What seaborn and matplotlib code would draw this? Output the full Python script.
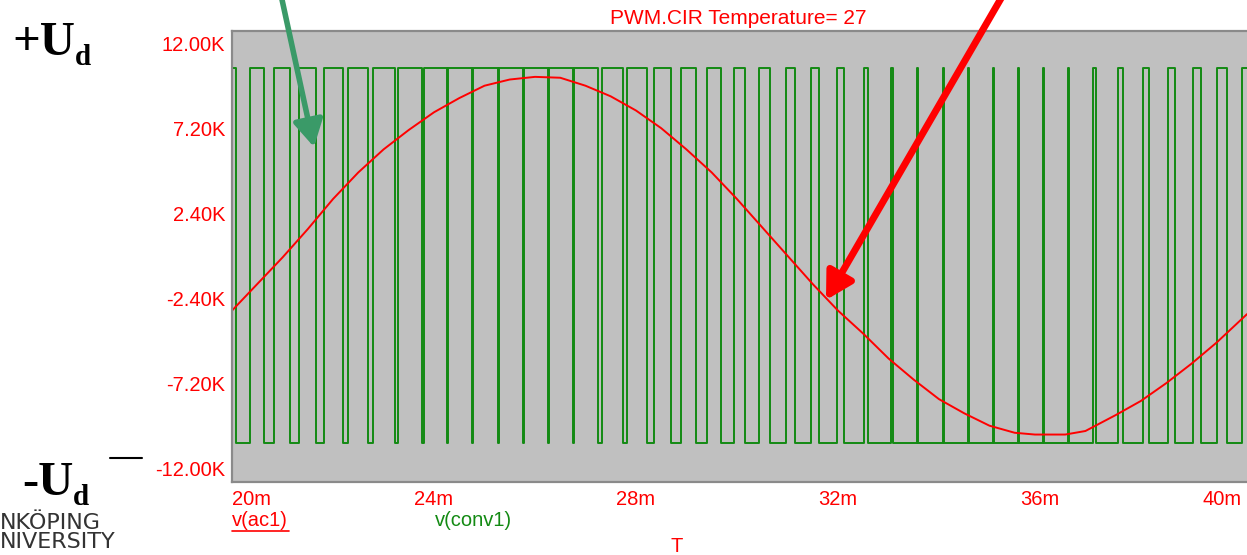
import matplotlib
matplotlib.use("Agg")
import matplotlib.pyplot as plt
from matplotlib.lines import Line2D
import pandas as pd
import seaborn as sns

# v(ac1): reference sine (time in ms, value in kV)
ac_time = [20.0, 20.5, 21.0, 21.5, 22.0, 22.5, 23.0, 23.5, 24.0, 24.5,
           25.0, 25.5, 26.0, 26.5, 27.0, 27.5, 28.0, 28.5, 29.0, 29.5,
           30.0, 30.5, 31.0, 31.5, 32.0, 32.5, 33.0, 33.5, 34.0, 34.5,
           35.0, 35.5, 35.9, 36.5, 36.9, 37.5, 38.0, 38.5, 39.0, 39.5, 40.1]
ac_kv = [-3.1, -1.6, -0.1, 1.5, 3.2, 4.7, 6.0, 7.1, 8.1, 8.9,
         9.6, 9.95, 10.1, 10.05, 9.6, 9.0, 8.2, 7.2, 6.0, 4.7,
         3.2, 1.6, 0.0, -1.6, -3.1, -4.4, -5.8, -7.0, -8.1, -8.9,
         -9.6, -10.0, -10.1, -10.1, -9.9, -9.0, -8.2, -7.2, -6.1, -4.9, -3.3]

# v(conv1): PWM output, high except for these low intervals (ms)
low_start = [20.089, 20.624, 21.149, 21.663, 22.198, 22.703, 23.228, 23.762,
             24.248, 24.752, 25.267, 25.762, 26.263, 26.758, 27.253, 27.752,
             28.228, 28.703, 29.198, 29.693, 30.158, 30.653, 31.149, 31.634,
             32.129, 32.598, 33.089, 33.578, 34.093, 34.588, 35.093, 35.580,
             36.083, 36.574, 37.119, 37.644, 38.164, 38.673, 39.198, 39.703]
low_end = [20.347, 20.822, 21.317, 21.812, 22.297, 22.792, 23.291, 23.802,
           24.277, 24.778, 25.281, 25.776, 26.287, 26.782, 27.327, 27.822,
           28.347, 28.891, 29.410, 29.941, 30.430, 30.970, 31.475, 31.986,
           32.525, 33.059, 33.564, 34.079, 34.574, 35.079, 35.566, 36.069,
           36.560, 37.055, 37.550, 38.046, 38.541, 39.036, 39.499, 39.994]
pwm_high = 10.6
pwm_low = -10.6

xtick_vals = [20, 24, 28, 32, 36, 40]
xtick_labels = ["20m", "24m", "28m", "32m", "36m", "40m"]
ytick_vals = [12.0, 7.2, 2.4, -2.4, -7.2, -12.0]
ytick_labels = ["12.00K", "7.20K", "2.40K", "-2.40K", "-7.20K", "-12.00K"]

W, H = 1247, 555
RED = "#ff0000"
GREEN = "#138a13"

sns.set_style("white")
plt.rcParams["font.family"] = ["Liberation Sans", "DejaVu Sans"]

# build the step polyline of the PWM signal
pwm_t = [ac_time[0]]
pwm_v = [pwm_high]
for s, e in zip(low_start, low_end):
    pwm_t += [s, s, e, e]
    pwm_v += [pwm_high, pwm_low, pwm_low, pwm_high]
pwm_t.append(ac_time[-1])
pwm_v.append(pwm_high)
pwm = pd.DataFrame({"t": pwm_t, "v": pwm_v})
ac = pd.DataFrame({"t": ac_time, "v": ac_kv})

fig = plt.figure(figsize=(W / 100, H / 100), dpi=100)
ax = fig.add_axes([232 / W, (H - 482) / H, 1 - 232 / W, (482 - 31) / H])
ax.set_facecolor("#c0c0c0")

sns.lineplot(data=pwm, x="t", y="v", sort=False, estimator=None,
             color=GREEN, lw=1.4, ax=ax)
sns.lineplot(data=ac, x="t", y="v", sort=False, estimator=None,
             color=RED, lw=1.4, ax=ax)

ax.set_xlim(20.0, 40.1)
ax.set_ylim(-12.78, 12.69)
ax.set_xlabel("")
ax.set_ylabel("")
ax.grid(False)

ax.set_xticks(xtick_vals)
ax.set_xticklabels(xtick_labels, color=RED, fontsize=14.5)
ax.set_yticks(ytick_vals)
ax.set_yticklabels(ytick_labels, color=RED, fontsize=14.5)
ax.tick_params(axis="both", length=0)
ax.tick_params(axis="x", pad=6)
ax.tick_params(axis="y", pad=5)
xl = ax.get_xticklabels()
xl[0].set_ha("left")
xl[-1].set_ha("right")

for side in ["left", "top", "bottom"]:
    ax.spines[side].set_color("#8a8a8a")
    ax.spines[side].set_linewidth(1.6)
ax.spines["right"].set_visible(False)


def fx(x):
    return x / W


def fy(y):
    return 1 - y / H


# title and trace labels
fig.text(fx(738), fy(18), "PWM.CIR Temperature= 27", color=RED,
         fontsize=15, ha="center", va="center")
fig.text(fx(232), fy(520), "v(ac1)", color=RED, fontsize=14.5,
         ha="left", va="center")
fig.add_artist(Line2D([fx(232), fx(289)], [fy(531), fy(531)],
                      color=RED, lw=1.2))
fig.text(fx(435), fy(521), "v(conv1)", color=GREEN, fontsize=14.5,
         ha="left", va="center")
fig.text(fx(677), fy(546), "T", color=RED, fontsize=14.5,
         ha="center", va="center")

# +Ud / -Ud labels
serif = "Liberation Serif"
fig.text(fx(12), fy(55), "+U", fontfamily=serif, fontweight="bold",
         fontsize=35, color="black", ha="left", va="baseline")
fig.text(fx(75), fy(65), "d", fontfamily=serif, fontweight="bold",
         fontsize=21, color="black", ha="left", va="baseline")
fig.text(fx(22), fy(495), "-U", fontfamily=serif, fontweight="bold",
         fontsize=35, color="black", ha="left", va="baseline")
fig.text(fx(73), fy(505), "d", fontfamily=serif, fontweight="bold",
         fontsize=21, color="black", ha="left", va="baseline")
fig.add_artist(Line2D([fx(110), fx(142)], [fy(458), fy(458)],
                      color="black", lw=1.5))

# remains of the logo text at bottom left
fig.text(fx(0), fy(529), "NKÖPING", fontfamily="DejaVu Sans",
         color="#333333", fontsize=16, ha="left", va="baseline")
fig.text(fx(0), fy(548), "NIVERSITY", fontfamily="DejaVu Sans",
         color="#333333", fontsize=16, ha="left", va="baseline")

# pointer arrows
ax.annotate("", xy=(314, H - 147), xycoords="figure pixels",
            xytext=(281, H + 5), textcoords="figure pixels",
            arrowprops=dict(arrowstyle="-|>,head_length=0.8,head_width=0.45",
                            lw=4, color="#3a9a68", mutation_scale=20,
                            shrinkA=0, shrinkB=0),
            annotation_clip=False)
ax.annotate("", xy=(826, H - 300), xycoords="figure pixels",
            xytext=(1003, H + 5), textcoords="figure pixels",
            arrowprops=dict(arrowstyle="-|>,head_length=0.8,head_width=0.45",
                            lw=5, color=RED, mutation_scale=20,
                            shrinkA=0, shrinkB=0),
            annotation_clip=False)

fig.savefig("out.png", dpi=100)
plt.close(fig)
print("saved out.png")
